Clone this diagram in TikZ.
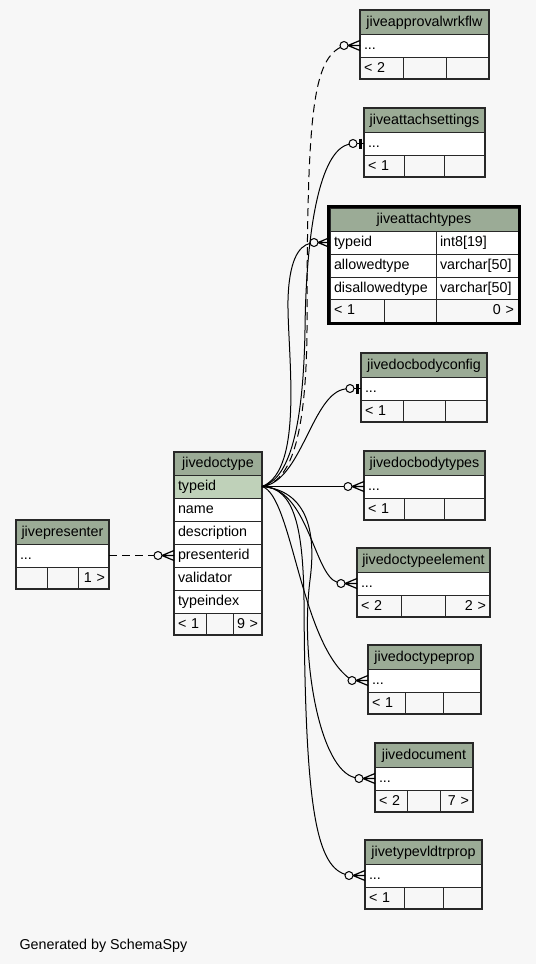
\documentclass[tikz,border=0pt]{standalone}
\usepackage{fontspec}
\setmainfont{Liberation Sans}
\usetikzlibrary{positioning}

\definecolor{hdrgreen}{RGB}{155,171,150}
\definecolor{pkgreen}{RGB}{191,209,185}
\definecolor{bggray}{RGB}{247,247,247}
\definecolor{tline}{RGB}{40,40,40}
\newcommand{\tabfont}{\fontsize{14.3}{17}\selectfont}

% table with one "..." row: id, title, left, top, right, left footer, right footer
\newcommand{\stubtable}[7]{%
  \pgfmathsetmacro{\stx}{#5-#3-8}%
  \pgfmathsetmacro{\scx}{(#5-#3)/3-8}%
  \node[hdr, text width=\stx pt] (#1) at (#3,#4) {#2};
  \node[row, text width=\stx pt] (#1-r) at (#1.south west) {...};
  \node[foot, text width=\scx pt, align=left] (#1-f1) at (#1-r.south west) {#6};
  \node[foot, text width=\scx pt] (#1-f2) at (#1-f1.north east) {};
  \node[foot, text width=\scx pt, align=right] (#1-f3) at (#1-f2.north east) {#7};
  \draw[frame] (#1.north west) rectangle (#1-f3.south east);
}

\begin{document}
\begin{tikzpicture}[x=1pt,y=-1pt,
    tbl/.style={draw=tline,line width=1pt,anchor=north west,inner xsep=4pt,inner ysep=0pt,
                outer sep=0pt,text height=10pt,text depth=2pt,font=\tabfont},
    hdr/.style={tbl,fill=hdrgreen,minimum height=24pt,align=center},
    row/.style={tbl,fill=white,minimum height=23pt,align=left},
    foot/.style={tbl,fill=bggray,minimum height=22pt},
    frame/.style={draw=tline,line width=1.4pt},
    odot/.style={circle,draw,fill=bggray,minimum size=8pt,inner sep=0pt,outer sep=0pt,line width=1pt},
    fk/.style={line width=1pt},
    opt/.style={fk,dash pattern=on 8pt off 5pt},
    crow/.style={line width=1.2pt}]

    \fill[bggray] (0,0) rectangle (536,964);
    \useasboundingbox (0,0) rectangle (536,964);

    \stubtable{wf}{jiveapprovalwrkflw}{360}{10}{489}{<~2}{}
    \stubtable{as}{jiveattachsettings}{364}{108}{485}{<~1}{}
    \stubtable{bc}{jivedocbodyconfig}{361}{353}{487}{<~1}{}
    \stubtable{bt}{jivedocbodytypes}{364}{451}{485}{<~1}{}
    \stubtable{te}{jivedoctypeelement}{357}{548}{490}{<~2}{2~>}
    \stubtable{tp}{jivedoctypeprop}{368}{645}{481}{<~1}{}
    \stubtable{doc}{jivedocument}{375}{743}{473}{<~2}{7~>}
    \stubtable{vp}{jivetypevldtrprop}{365}{840}{482}{<~1}{}
    \stubtable{pr}{jivepresenter}{16}{520}{109}{}{1~>}

    \node[hdr, minimum height=23pt, text width=180pt] (at) at (330,208) {jiveattachtypes};
    \node[row, text width=98pt] (at-id) at (at.south west) {typeid};
    \node[row, text width=74pt] (at-idt) at (at-id.north east) {int8[19]};
    \node[row, text width=98pt] (at-al) at (at-id.south west) {allowedtype};
    \node[row, text width=74pt] (at-alt) at (at-al.north east) {varchar[50]};
    \node[row, minimum height=22pt, text width=98pt] (at-di) at (at-al.south west) {disallowedtype};
    \node[row, minimum height=22pt, text width=74pt] (at-dit) at (at-di.north east) {varchar[50]};
    \node[foot, minimum height=23pt, text width=46pt, align=left] (at-f1) at (at-di.south west) {<~1};
    \node[foot, minimum height=23pt, text width=44pt] (at-f2) at (at-f1.north east) {};
    \node[foot, minimum height=23pt, text width=74pt, align=right] (at-f3) at (at-f2.north east) {0~>};
    \draw[draw=black, line width=3pt] ([shift={(-1.5,-1.5)}]at.north west) rectangle ([shift={(1.5,1.5)}]at-f3.south east);

    \node[hdr, minimum height=23pt, text width=80pt] (dt) at (174,452) {jivedoctype};
    \node[row, fill=pkgreen, text width=80pt] (dt-id) at (dt.south west) {typeid};
    \node[row, text width=80pt] (dt-nm) at (dt-id.south west) {name};
    \node[row, text width=80pt] (dt-ds) at (dt-nm.south west) {description};
    \node[row, text width=80pt] (dt-pr) at (dt-ds.south west) {presenterid};
    \node[row, text width=80pt] (dt-vl) at (dt-pr.south west) {validator};
    \node[row, text width=80pt] (dt-ti) at (dt-vl.south west) {typeindex};
    \node[foot, text width=24pt, align=left] (dt-f1) at (dt-ti.south west) {<~1};
    \node[foot, text width=19pt] (dt-f2) at (dt-f1.north east) {};
    \node[foot, text width=21pt, align=right] (dt-f3) at (dt-f2.north east) {9~>};
    \draw[frame] (dt.north west) rectangle (dt-f3.south east);

    \node[odot, left=12pt of wf-r.west] (c-wf) {};
    \node[odot, left=7pt of as-r.west] (c-as) {};
    \node[odot, left=12pt of at-id.west] (c-at) {};
    \node[odot, left=7pt of bc-r.west] (c-bc) {};
    \node[odot, left=12pt of bt-r.west] (c-bt) {};
    \node[odot, left=12pt of te-r.west] (c-te) {};
    \node[odot, left=12pt of tp-r.west] (c-tp) {};
    \node[odot, left=12pt of doc-r.west] (c-doc) {};
    \node[odot, left=12pt of vp-r.west] (c-vp) {};
    \node[odot, left=12pt of dt-pr.west] (c-pr) {};

    \draw[opt] (dt-id.east) .. controls (290,482) and (306,440) .. (307,330)
        .. controls (307,120) and (312,62) .. (c-wf);
    \draw[fk] (dt-id.east) .. controls (286,480) and (303,440) .. (305,330)
        .. controls (306,230) and (320,150) .. (c-as);
    \draw[fk] (dt-id.east) .. controls (305,470) and (287,350) .. (288,300)
        .. controls (289,262) and (298,246) .. (c-at);
    \draw[fk] (dt-id.east) .. controls (302,482) and (312,392) .. (c-bc);
    \draw[fk] (dt-id.east) -- (c-bt);
    \draw[fk] (dt-id.east) .. controls (308,487) and (314,575) .. (c-te);
    \draw[fk] (dt-id.east) .. controls (292,495) and (300,640) .. (c-tp);
    \draw[fk] (dt-id.east) .. controls (300,490) and (318,520) .. (310,580)
        .. controls (300,660) and (320,770) .. (c-doc);
    \draw[fk] (dt-id.east) .. controls (295,487) and (303,530) .. (304,600)
        .. controls (305,800) and (315,865) .. (c-vp);
    \draw[opt] (pr-r.east) -- (c-pr);

    \foreach \c/\r in {c-wf/wf-r, c-at/at-id, c-bt/bt-r, c-te/te-r, c-tp/tp-r,
                       c-doc/doc-r, c-vp/vp-r, c-pr/dt-pr}
        \draw[crow] (\c.east) -- (\r.west) (\c.east) -- ([yshift=5pt]\r.west)
                    (\c.east) -- ([yshift=-5pt]\r.west);
    \foreach \c/\r in {c-as/as-r, c-bc/bc-r} {
        \draw[fk] (\c.east) -- (\r.west);
        \draw[line width=2.5pt] ([xshift=-3.5pt,yshift=5pt]\r.west) -- ([xshift=-3.5pt,yshift=-5pt]\r.west);
    }

    \node[anchor=base west, font=\tabfont] (gen) at (16,949) {Generated by SchemaSpy};
\end{tikzpicture}
\end{document}
